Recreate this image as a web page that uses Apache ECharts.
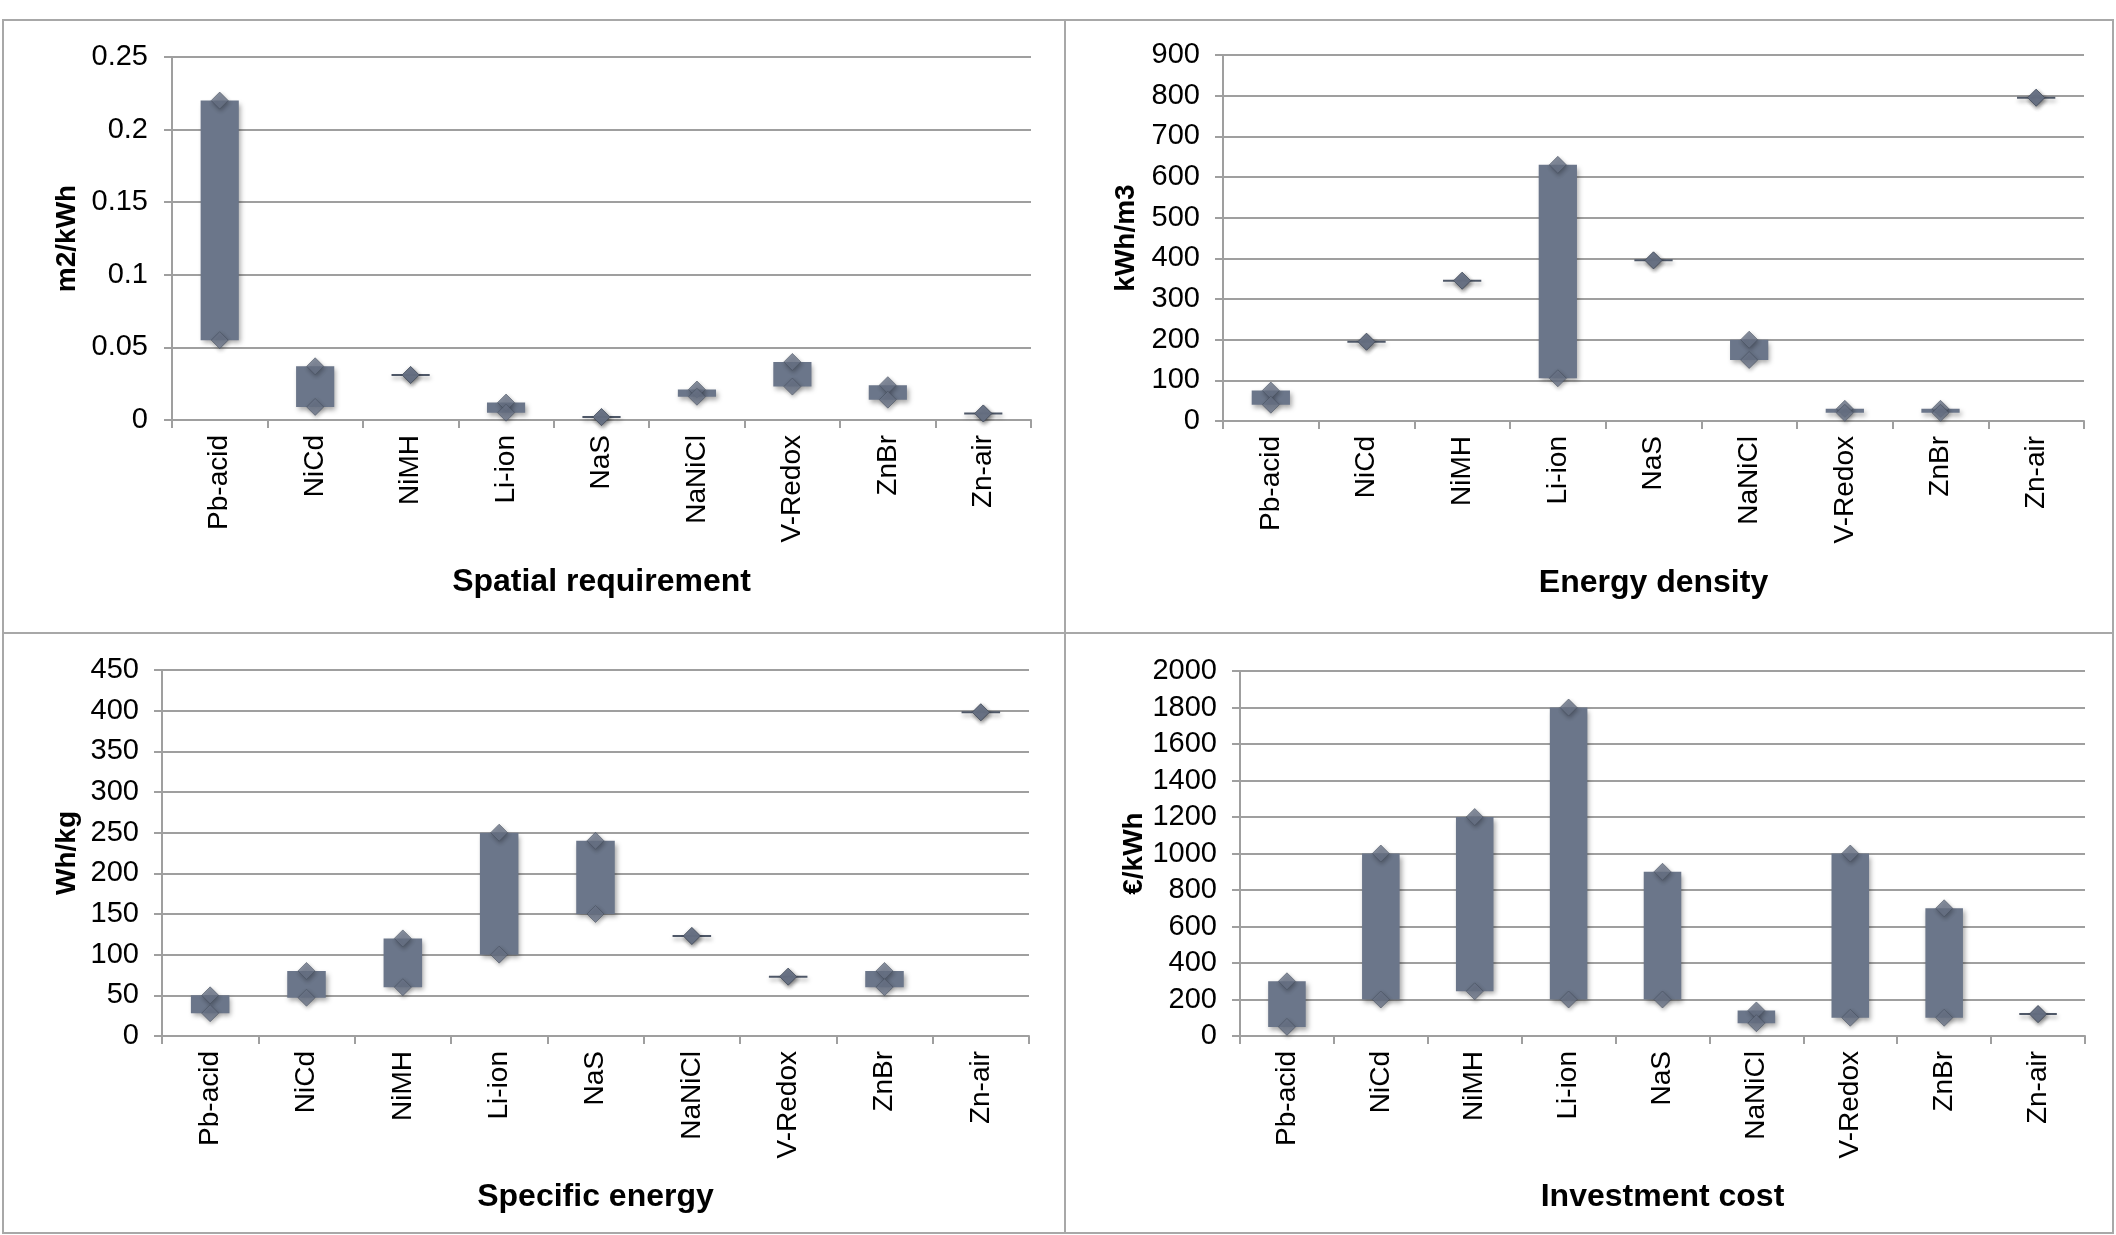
<!DOCTYPE html>
<html>
<head>
<meta charset="utf-8">
<title>Battery technologies comparison</title>
<script src="https://cdn.jsdelivr.net/npm/echarts@6/dist/echarts.min.js"></script>
<style>
  html, body { margin: 0; padding: 0; background: #ffffff; }
  #chart { width: 2116px; height: 1235px; }
</style>
</head>
<body>
<div id="chart"></div>
<script>
// Battery technologies on the category axis
const categories = ['Pb-acid', 'NiCd', 'NiMH', 'Li-ion', 'NaS', 'NaNiCl', 'V-Redox', 'ZnBr', 'Zn-air'];

// Spatial requirement (m2/kWh): lower and upper bound per technology
const spatialLow  = [0.055, 0.009, 0.031, 0.005, 0.002, 0.016, 0.023, 0.014, 0.0045];
const spatialHigh = [0.22, 0.037, 0.031, 0.012, 0.002, 0.021, 0.040, 0.024, 0.0045];
const spatialTicks = [0, 0.05, 0.1, 0.15, 0.2, 0.25];

// Energy density (kWh/m3)
const densityLow  = [40, 195, 345, 105, 395, 150, 20, 20, 795];
const densityHigh = [75, 195, 345, 630, 395, 200, 30, 30, 795];
const densityTicks = [0, 100, 200, 300, 400, 500, 600, 700, 800, 900];

// Specific energy (Wh/kg)
const specificLow  = [28, 47, 60, 100, 150, 123, 73, 60, 398];
const specificHigh = [50, 80, 120, 250, 240, 123, 73, 80, 398];
const specificTicks = [0, 50, 100, 150, 200, 250, 300, 350, 400, 450];

// Investment cost (€/kWh)
const costLow  = [50, 200, 245, 200, 200, 70, 100, 100, 120];
const costHigh = [300, 1000, 1200, 1800, 900, 140, 1000, 700, 120];
const costTicks = [0, 200, 400, 600, 800, 1000, 1200, 1400, 1600, 1800, 2000];

const FONT = "'Liberation Sans', Arial, Helvetica, sans-serif";
const BAR = '#6b768a';
const GRID_GRAY = '#9f9f9f';

const panels = [
  { title: 'Spatial requirement', unit: 'm2/kWh', low: spatialLow, high: spatialHigh, ticks: spatialTicks,
    grid: { left: 172, top: 57, right: 1085, bottom: 815 }, nameGap: 91, titleGap: 146, labelMargin: 24 },
  { title: 'Energy density', unit: 'kWh/m3', low: densityLow, high: densityHigh, ticks: densityTicks,
    grid: { left: 1223, top: 55, right: 32, bottom: 814 }, nameGap: 83, titleGap: 146, labelMargin: 23 },
  { title: 'Specific energy', unit: 'Wh/kg', low: specificLow, high: specificHigh, ticks: specificTicks,
    grid: { left: 162, top: 670, right: 1087, bottom: 199 }, nameGap: 81, titleGap: 145, labelMargin: 23 },
  { title: 'Investment cost', unit: '€/kWh', low: costLow, high: costHigh, ticks: costTicks,
    grid: { left: 1240, top: 671, right: 31, bottom: 199 }, nameGap: 90, titleGap: 145, labelMargin: 23 }
];

// Floating bar spanning [low, high]; a zero-height range becomes a thin line
function rangeBar(params, api) {
  const x = api.value(0);
  const lo = api.coord([x, api.value(1)]);
  const hi = api.coord([x, api.value(2)]);
  const w = api.size([1, 0])[0] * 0.4;
  const h = lo[1] - hi[1];
  if (h < 2) {
    return {
      type: 'rect',
      shape: { x: lo[0] - w / 2, y: lo[1] - 1, width: w, height: 2 },
      style: { fill: '#4f5868', shadowBlur: 4, shadowOffsetX: 1, shadowOffsetY: 3, shadowColor: 'rgba(0,0,0,0.35)' }
    };
  }
  return {
    type: 'rect',
    shape: { x: lo[0] - w / 2, y: hi[1], width: w, height: h },
    style: { fill: BAR, shadowBlur: 5, shadowOffsetX: 2, shadowOffsetY: 3, shadowColor: 'rgba(0,0,0,0.35)' }
  };
}

const diamondStyle = {
  color: BAR,
  borderColor: 'rgba(70,78,92,0.7)',
  borderWidth: 1,
  shadowBlur: 4,
  shadowOffsetX: 1,
  shadowOffsetY: 2,
  shadowColor: 'rgba(0,0,0,0.35)'
};

const option = {
  animation: false,
  backgroundColor: '#ffffff',
  textStyle: { fontFamily: FONT },
  grid: panels.map(p => Object.assign({ containLabel: false }, p.grid)),
  xAxis: panels.map((p, i) => ({
    type: 'category',
    gridIndex: i,
    data: categories,
    name: p.title,
    nameLocation: 'middle',
    nameGap: p.titleGap,
    nameTextStyle: { fontFamily: FONT, fontSize: 32, fontWeight: 'bold', color: '#000' },
    axisLine: { show: true, lineStyle: { color: GRID_GRAY, width: 2 } },
    axisTick: { show: true, length: 8, lineStyle: { color: GRID_GRAY, width: 2 } },
    axisLabel: { interval: 0, rotate: 90, margin: 15, fontFamily: FONT, fontSize: 28, color: '#000' },
    splitLine: { show: false }
  })),
  yAxis: panels.map((p, i) => ({
    type: 'value',
    gridIndex: i,
    min: p.ticks[0],
    max: p.ticks[p.ticks.length - 1],
    interval: p.ticks[1] - p.ticks[0],
    name: p.unit,
    nameLocation: 'middle',
    nameGap: p.nameGap,
    nameRotate: 90,
    nameTextStyle: { fontFamily: FONT, fontSize: 28, fontWeight: 'bold', color: '#000' },
    axisLine: { show: true, lineStyle: { color: GRID_GRAY, width: 2 } },
    axisTick: { show: true, length: 8, lineStyle: { color: GRID_GRAY, width: 2 } },
    axisLabel: {
      margin: p.labelMargin, fontFamily: FONT, fontSize: 29, color: '#000',
      formatter: v => String(+v.toFixed(4))
    },
    splitLine: { show: true, lineStyle: { color: GRID_GRAY, width: 2 } }
  })),
  series: [],
  graphic: [
    { type: 'rect', z: -10, shape: { x: 3, y: 20, width: 2110, height: 1213 },
      style: { fill: 'none', stroke: '#a8a8a8', lineWidth: 2 } },
    { type: 'line', z: -10, shape: { x1: 3, y1: 633, x2: 2113, y2: 633 },
      style: { stroke: '#a8a8a8', lineWidth: 2 } },
    { type: 'line', z: -10, shape: { x1: 1065, y1: 20, x2: 1065, y2: 1233 },
      style: { stroke: '#a8a8a8', lineWidth: 2 } }
  ]
};

panels.forEach((p, i) => {
  option.series.push({
    type: 'custom',
    xAxisIndex: i,
    yAxisIndex: i,
    renderItem: rangeBar,
    encode: { x: 0, y: [1, 2] },
    data: categories.map((c, k) => [k, p.low[k], p.high[k]]),
    z: 2
  });
  option.series.push({
    type: 'scatter',
    xAxisIndex: i,
    yAxisIndex: i,
    symbol: 'diamond',
    symbolSize: 17,
    itemStyle: diamondStyle,
    data: categories.map((c, k) => [k, p.high[k]]),
    z: 3
  });
  option.series.push({
    type: 'scatter',
    xAxisIndex: i,
    yAxisIndex: i,
    symbol: 'diamond',
    symbolSize: 17,
    itemStyle: diamondStyle,
    data: categories.map((c, k) => [k, p.low[k]]),
    z: 3
  });
});

const chart = echarts.init(document.getElementById('chart'), null, { renderer: 'canvas' });
chart.setOption(option);
</script>
</body>
</html>
